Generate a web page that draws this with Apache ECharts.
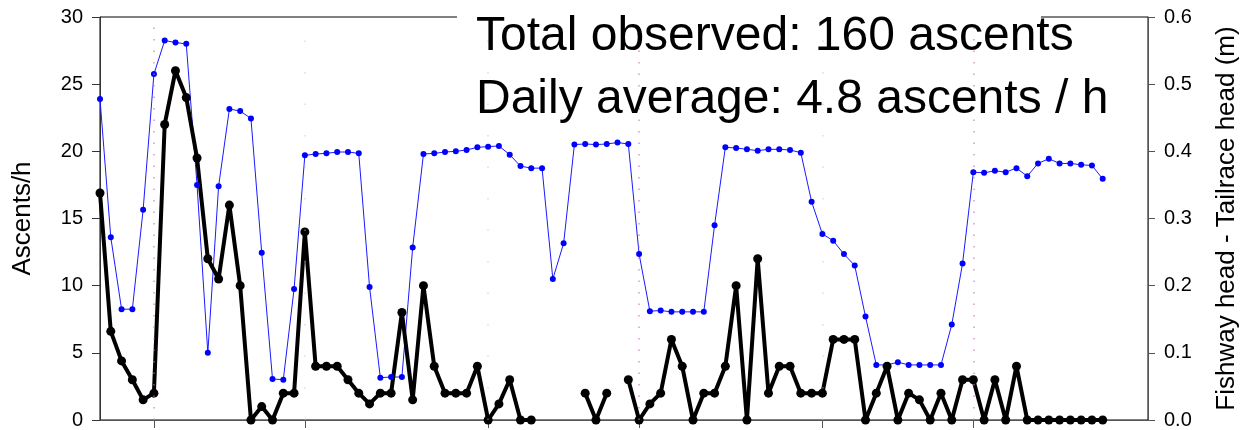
<!DOCTYPE html>
<html>
<head>
<meta charset="utf-8">
<title>Fishway ascents and head difference</title>
<script src="https://cdn.jsdelivr.net/npm/echarts@6/dist/echarts.min.js"></script>
<style>
  html, body { margin: 0; padding: 0; background: #fff; }
  #chart { width: 1248px; height: 430px; }
</style>
</head>
<body>
<div id="chart"></div>
<script>
// Hourly fish ascents (left axis); null = no observation in that hour
const ascents = [
  16.9, 6.6, 4.4, 3.0, 1.5, 2.0, 22, 26, 24, 19.5,
  12, 10.5, 16, 10, 0, 1, 0, 2, 2, 14,
  4, 4, 4, 3, 2, 1.2, 2, 2, 8, 1.5,
  10, 4, 2, 2, 2, 4, 0, 1.2, 3, 0,
  0, null, null, null, null, 2, 0, 2, null, 3,
  0, 1.2, 2, 6, 4, 0, 2, 2, 4, 10,
  0, 12, 2, 4, 4, 2, 2, 2, 6, 6,
  6, 0, 2, 4, 0, 2, 1.5, 0, 2, 0,
  3, 3, 0, 3, 0, 4, 0, 0, 0, 0,
  0, 0, 0, 0
];

// Fishway head minus tailrace head, metres (right axis)
const headDiff = [
  0.478, 0.272, 0.165, 0.165, 0.313, 0.515, 0.565, 0.562, 0.560, 0.350,
  0.100, 0.348, 0.463, 0.460, 0.449, 0.249, 0.061, 0.060, 0.195, 0.394,
  0.396, 0.397, 0.399, 0.399, 0.397, 0.198, 0.063, 0.064, 0.064, 0.257,
  0.396, 0.397, 0.399, 0.400, 0.402, 0.406, 0.407, 0.408, 0.395, 0.378,
  0.375, 0.375, 0.210, 0.263, 0.410, 0.411, 0.410, 0.411, 0.413, 0.411,
  0.247, 0.162, 0.163, 0.161, 0.161, 0.161, 0.161, 0.290, 0.406, 0.405,
  0.403, 0.401, 0.403, 0.403, 0.402, 0.398, 0.325, 0.277, 0.267, 0.247,
  0.230, 0.154, 0.082, 0.082, 0.086, 0.082, 0.082, 0.082, 0.082, 0.142,
  0.233, 0.369, 0.368, 0.371, 0.369, 0.375, 0.363, 0.382, 0.389, 0.382,
  0.382, 0.380, 0.379, 0.359
];

// Hour index at which each new day begins
const dayStarts = [5, 19, 36, 50, 67, 81];
const dayStartsPink = [5, 50, 81];
const dayStartsGrey = [19, 36, 67];

const summaryLines = ['Total observed: 160 ascents', 'Daily average: 4.8 ascents / h'];

const FONT = '"Liberation Sans", Arial, Helvetica, sans-serif';

const chart = echarts.init(document.getElementById('chart'), null, { renderer: 'canvas' });

const ascentData = ascents.map((v, i) => [i, v == null ? '-' : v]);
const headData = headDiff.map((v, i) => [i, v]);

chart.setOption({
  animation: false,
  backgroundColor: '#fff',
  grid: {
    left: 100, right: 96, top: 17, bottom: 7,
    show: true, borderColor: '#000', borderWidth: 1, backgroundColor: 'transparent'
  },
  xAxis: {
    type: 'value',
    min: 0,
    max: 97.2,
    axisLine: { show: true, onZero: false, lineStyle: { color: '#555', width: 1 } },
    axisTick: { show: true, length: 8, customValues: dayStarts, lineStyle: { color: '#555' } },
    axisLabel: { show: false },
    splitLine: { show: false }
  },
  yAxis: [
    {
      type: 'value',
      position: 'left',
      min: 0, max: 30, interval: 5,
      name: 'Ascents/h',
      nameLocation: 'middle',
      nameRotate: 90,
      nameGap: 64,
      nameTextStyle: { fontFamily: FONT, fontSize: 26, color: '#000' },
      axisLine: { show: true, lineStyle: { color: '#333', width: 1 } },
      axisTick: { show: true, length: 8, lineStyle: { color: '#333' } },
      axisLabel: { fontFamily: FONT, fontSize: 20, color: '#000', margin: 17 },
      splitLine: { show: false }
    },
    {
      type: 'value',
      position: 'right',
      min: 0, max: 0.6, interval: 0.1,
      name: 'Fishway head - Tailrace head (m)',
      nameLocation: 'middle',
      nameRotate: 90,
      nameGap: 66,
      nameTextStyle: { fontFamily: FONT, fontSize: 26, color: '#000' },
      axisLine: { show: true, lineStyle: { color: '#555', width: 1 } },
      axisTick: { show: true, length: 7, lineStyle: { color: '#555' } },
      axisLabel: {
        fontFamily: FONT, fontSize: 20, color: '#000', margin: 16,
        formatter: v => v.toFixed(1)
      },
      splitLine: { show: false }
    }
  ],
  series: [
    {
      name: 'Head difference',
      type: 'line',
      yAxisIndex: 1,
      data: headData,
      symbol: 'circle',
      symbolSize: 6,
      itemStyle: { color: '#0000ff' },
      lineStyle: { color: '#1a1aff', width: 1 },
      emphasis: { disabled: true },
      markLine: {
        silent: true,
        symbol: ['none', 'none'],
        label: { show: false },
        animation: false,
        data: dayStartsPink.map(d => ({ xAxis: d, lineStyle: { color: '#c86ac0', width: 1.5, type: [1.5, 10], opacity: 0.7 } }))
          .concat(dayStartsGrey.map(d => ({ xAxis: d, lineStyle: { color: '#bbbbbb', width: 1.5, type: [1.5, 30], opacity: 0.5 } })))
      }
    },
    {
      name: 'Ascents',
      type: 'line',
      yAxisIndex: 0,
      data: ascentData,
      connectNulls: false,
      symbol: 'circle',
      symbolSize: 9,
      itemStyle: { color: '#000' },
      lineStyle: { color: '#000', width: 4 },
      emphasis: { disabled: true }
    }
  ],
  graphic: [
    {
      type: 'rect', z: 100,
      shape: { x: 457, y: 0, width: 584, height: 26 },
      style: { fill: '#fff' }
    },
    {
      type: 'text', z: 101, x: 476, y: 37,
      style: { text: summaryLines[0], font: '48px ' + FONT, fill: '#000', verticalAlign: 'middle' }
    },
    {
      type: 'text', z: 101, x: 476, y: 100,
      style: { text: summaryLines[1], font: '48px ' + FONT, fill: '#000', verticalAlign: 'middle' }
    }
  ]
});
</script>
</body>
</html>
